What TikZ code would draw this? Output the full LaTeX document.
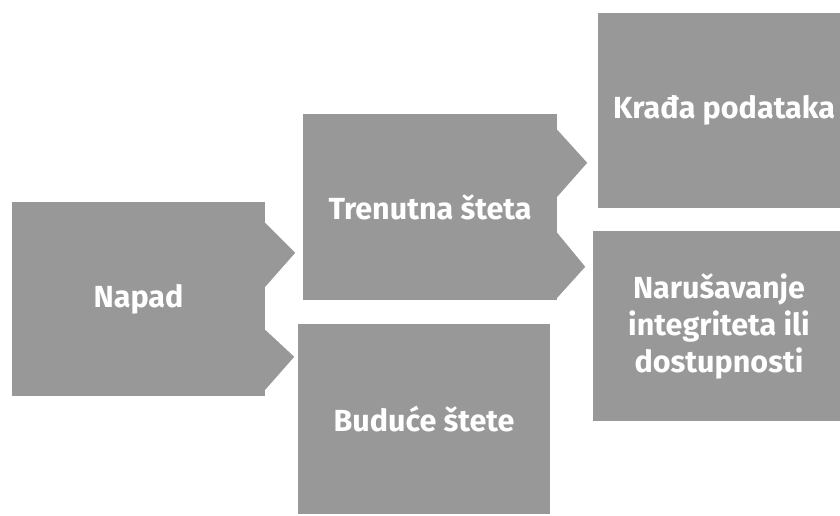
\documentclass[tikz,border=0pt]{standalone}
\usepackage{fontspec}
\setmainfont{Fira Sans}
\usepackage{xcolor}
\usetikzlibrary{positioning}
\definecolor{boxgray}{RGB}{152,152,152}

\begin{document}
\begin{tikzpicture}[
    x=1pt, y=1pt,
    box/.style={rectangle, fill=boxgray, inner sep=0pt, align=center, text=white, font=\fontsize{30.5}{37}\selectfont\bfseries},
    tab/.style={fill=boxgray}
]
    \useasboundingbox (0,0) rectangle (840,516);
    \clip (0,0) rectangle (840,516);

    % Attack
    \node[box, minimum width=253pt, minimum height=194pt] (napad) at (138.5,217) {Napad};

    % Damage
    \node[box, minimum width=254pt, minimum height=186pt] (trenutna) at (430,309) {Trenutna šteta};
    \node[box, minimum width=252pt, minimum height=190pt] (buduce) at (424,97) {Buduće štete};

    % Consequences
    \node[box, minimum width=252pt, minimum height=195pt] (krada) at (724,405.5) {Krađa podataka};
    \node[box, minimum width=252pt, minimum height=190pt] (narusavanje) at (719,190) {Narušavanje\\integriteta ili\\dostupnosti};

    % Tabs
    \fill[tab] ([yshift=-21pt]napad.north east) -- ++(30,-30) -- ++(-30,-34) -- cycle;
    \fill[tab] ([yshift=-128pt]napad.north east) -- ++(29,-27) -- ++(-29,-33) -- cycle;
    \fill[tab] ([yshift=-16pt]trenutna.north east) -- ++(30,-33) -- ++(-30,-34) -- cycle;
    \fill[tab] ([yshift=-119pt]trenutna.north east) -- ++(28,-34) -- ++(-28,-31) -- cycle;
\end{tikzpicture}
\end{document}
